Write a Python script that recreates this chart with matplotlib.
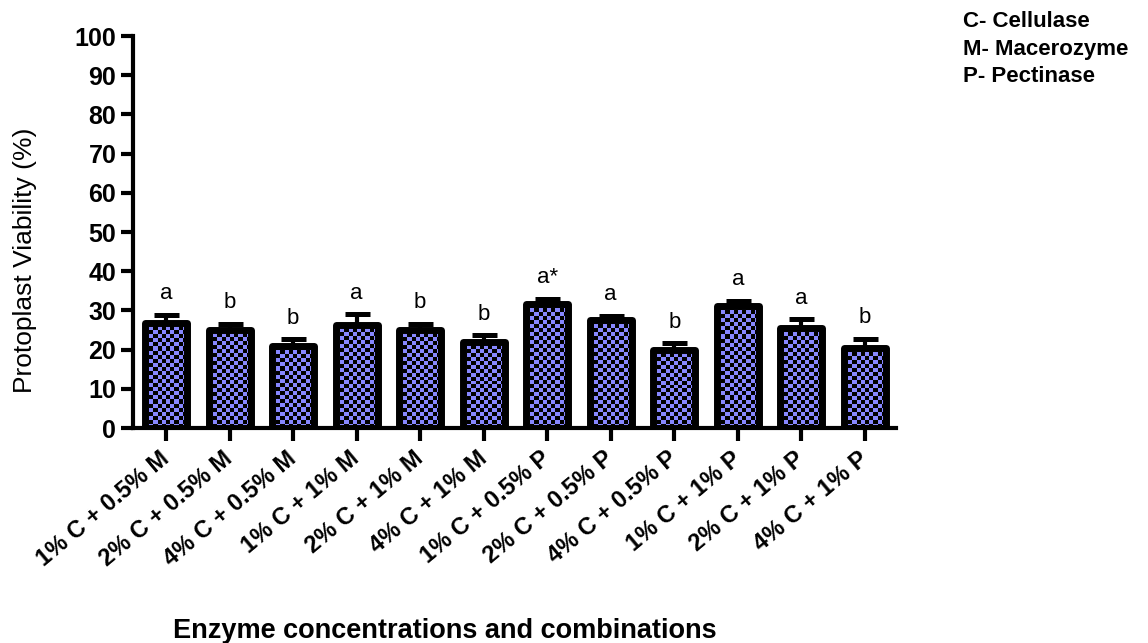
import numpy as np
import matplotlib
matplotlib.use('Agg')
import matplotlib.pyplot as plt

plt.rcParams['font.family'] = ['Liberation Sans', 'DejaVu Sans']

labels = ['1% C + 0.5% M', '2% C + 0.5% M', '4% C + 0.5% M',
          '1% C + 1% M', '2% C + 1% M', '4% C + 1% M',
          '1% C + 0.5% P', '2% C + 0.5% P', '4% C + 0.5% P',
          '1% C + 1% P', '2% C + 1% P', '4% C + 1% P']
viability = [26.8, 25.0, 20.9, 26.4, 25.0, 22.0, 31.6, 27.5, 19.9, 31.1, 25.4, 20.3]
sem = [2.0, 1.6, 1.7, 2.6, 1.6, 1.6, 1.4, 1.1, 1.7, 1.4, 2.3, 2.4]
groups = ['a', 'b', 'b', 'a', 'b', 'b', 'a*', 'a', 'b', 'a', 'a', 'b']
key = ['C- Cellulase', 'M- Macerozyme', 'P- Pectinase']

W, H = 1148, 643
fig = plt.figure(figsize=(W / 100, H / 100), dpi=100)
ax = fig.add_axes([133 / W, 1 - 428 / H, (896 - 133) / W, 392 / H])

x = np.arange(len(labels))
bars = ax.bar(x, viability, width=0.66, facecolor='none', edgecolor='black',
              linewidth=5, joinstyle='round', zorder=3)
ax.errorbar(x, viability, yerr=[np.zeros(len(sem)), sem], fmt='none',
            ecolor='black', elinewidth=3, capsize=9, capthick=3.6, zorder=4)

ax.set_xlim(-0.52, 11.49)
ax.set_ylim(0, 100)

# checkered fill inside each bar, clipped to the bar outline
cell = 4
for b in bars:
    x0, y0 = b.get_x(), b.get_y()
    x1, y1 = x0 + b.get_width(), y0 + b.get_height()
    (px0, py0), (px1, py1) = ax.transData.transform([(x0, y0), (x1, y1)])
    nx = max(int(round((px1 - px0) / cell)), 1)
    ny = max(int(round((py1 - py0) / cell)), 1)
    board = (np.indices((ny, nx)).sum(axis=0) % 2).astype(float)
    rgb = np.where(board[..., None] == 0, [0.53, 0.53, 1.0], [0.0, 0.0, 0.0])
    im = ax.imshow(rgb, extent=(x0, x1, y0, y1), aspect='auto',
                   interpolation='nearest', zorder=2)
    im.set_clip_path(b)

ax.set_xlim(-0.52, 11.49)
ax.set_ylim(0, 100)

for xi, v, e, g in zip(x, viability, sem, groups):
    ax.text(xi, v + e + 4, g, ha='center', va='baseline', fontsize=16, zorder=5)

for side in ['top', 'right']:
    ax.spines[side].set_visible(False)
for side in ['left', 'bottom']:
    ax.spines[side].set_linewidth(3)

ax.set_yticks(range(0, 101, 10))
ax.tick_params(axis='y', length=9, width=3, labelsize=18, pad=3)
ax.tick_params(axis='x', length=9, width=3, pad=11)
for t in ax.get_yticklabels():
    t.set_fontweight('bold')
ax.set_xticks(x)
ax.set_xticklabels(labels, rotation=40, ha='right', va='center',
                   rotation_mode='anchor', fontsize=17, fontweight='bold')

fig.text(25 / W, 1 - 260 / H, 'Protoplast Viability (%)', rotation=90,
         ha='center', va='center', fontsize=19)
fig.text(173 / W, 1 - 638 / H, 'Enzyme concentrations and combinations',
         ha='left', va='baseline', fontsize=19.5, fontweight='bold')

for i, k in enumerate(key):
    fig.text(963 / W, 1 - (27 + 27.5 * i) / H, k, ha='left', va='baseline',
             fontsize=16, fontweight='bold')

fig.savefig('out.png', dpi=100)
